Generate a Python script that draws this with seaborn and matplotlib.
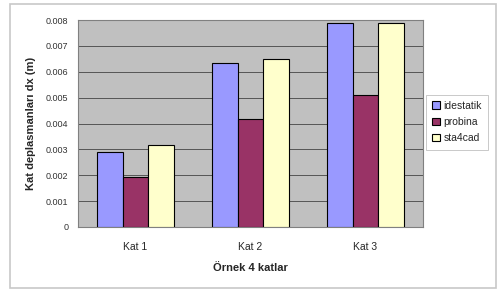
import matplotlib
matplotlib.use("Agg")
import matplotlib.pyplot as plt
import matplotlib.ticker as mticker
import numpy as np
import pandas as pd
import seaborn as sns

# Data
floors = ["Kat 1", "Kat 2", "Kat 3"]
programs = ["idestatik", "probina", "sta4cad"]
idestatik = [0.0029, 0.00634, 0.00789]
probina = [0.00193, 0.00417, 0.0051]
sta4cad = [0.00317, 0.0065, 0.00789]
y_ticks = [0, 0.001, 0.002, 0.003, 0.004, 0.005, 0.006, 0.007, 0.008]

colors = ["#9999FF", "#993366", "#FFFFCC"]

df = pd.DataFrame({
    "floor": floors * 3,
    "program": np.repeat(programs, len(floors)),
    "dx": idestatik + probina + sta4cad,
})

sns.set_style("white")
plt.rcParams["font.family"] = ["Liberation Sans", "DejaVu Sans"]

fig = plt.figure(figsize=(4.98, 2.92), dpi=100)
ax = fig.add_axes([78 / 498, 1 - 227 / 292, 345 / 498, 207 / 292])

sns.barplot(data=df, x="floor", y="dx", hue="program", order=floors,
            hue_order=programs, palette=colors, saturation=1, width=0.67, gap=0,
            edgecolor="black", linewidth=0.8, ax=ax, zorder=3)

ax.set_facecolor("#C0C0C0")
ax.set_ylim(0, 0.008)
ax.set_yticks(y_ticks)
ax.yaxis.set_major_formatter(mticker.FuncFormatter(lambda v, p: "0" if v == 0 else f"{v:.3f}"))
ax.yaxis.grid(True, color="#555555", linewidth=0.7, zorder=0)
ax.set_axisbelow(True)
for s in ax.spines.values():
    s.set_color("#808080")
    s.set_linewidth(0.8)

ax.set_xticks([0, 1, 2])
ax.set_xticks([-0.5, 0.5, 1.5, 2.5], minor=True)
ax.tick_params(axis="x", which="major", length=0, labelsize=7.5, pad=11)
ax.tick_params(axis="x", which="minor", length=3, color="#808080")
ax.tick_params(axis="y", length=3, color="#808080", labelsize=6.5, labelcolor="#333333", pad=4)

ax.set_xlabel("Örnek 4 katlar", fontsize=8, fontweight="bold", labelpad=8)
ax.set_ylabel("Kat deplasmanları dx (m)", fontsize=8, fontweight="bold", labelpad=7)

leg = ax.legend(loc="center left", bbox_to_anchor=(426 / 498, 1 - 122 / 292),
                bbox_transform=fig.transFigure, fontsize=7.5, frameon=True,
                fancybox=False, handlelength=0.7, handleheight=0.7,
                handletextpad=0.4, borderpad=0.6, labelspacing=0.6,
                borderaxespad=0)
leg.get_frame().set_edgecolor("#B0B0B0")
leg.get_frame().set_linewidth(0.6)

# light chart frame
fig.patches.append(plt.Rectangle((10 / 498, 4 / 292), 486 / 498, 284 / 292,
                                 transform=fig.transFigure, fill=False,
                                 edgecolor="#C8C8C8", linewidth=1.2))

fig.savefig("out.png", dpi=100)
